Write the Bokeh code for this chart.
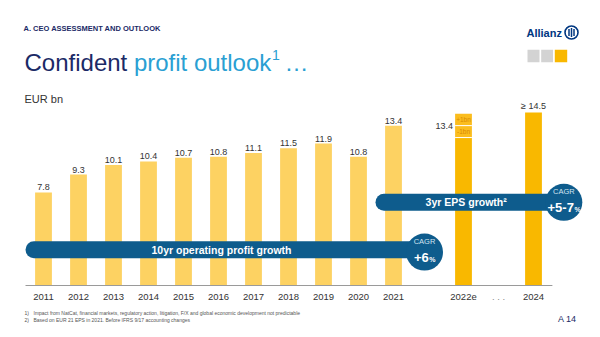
from bokeh.plotting import figure
from bokeh.models import Range1d, Label, ColumnDataSource
from bokeh.core.properties import value
from bokeh.embed import file_html
from bokeh.resources import INLINE

# ---------------- data ----------------
hist_years = ["2011", "2012", "2013", "2014", "2015", "2016",
              "2017", "2018", "2019", "2020", "2021"]
hist_values = [7.8, 9.3, 10.1, 10.4, 10.7, 10.8, 11.1, 11.5, 11.9, 10.8, 13.4]
outlook_years = ["2022e", "2024"]
outlook_values = [13.4, 14.5]
outlook_labels = ["13.4", "\u2265 14.5"]
outlook_band = 1.0            # +/- 1bn around the 2022e midpoint
band_labels = ["+1bn", "-1bn"]
axis_labels = hist_years + ["", "2022e", ". . .", "2024"]
cagr_10yr = "+6"
cagr_eps = "+5-7"

# ---------------- style ----------------
W, H = 600, 337
FONT = "Liberation Sans"
LIGHT = "#FDD262"
DARK = "#F9B800"
BAND = "#FBBD1E"
BLUE = "#0E5C8D"
NAVY = "#1B2A66"
SKY = "#2A9FD3"
GREY_TXT = "#333333"

SLOT_PX = 35.0       # pixels per category slot
PXU = 11.93          # pixels per EUR bn
BASE_PX = 285.0      # baseline position (from top)
FIRST_PX = 43.0      # centre of first slot
X0 = -FIRST_PX / SLOT_PX
X1 = X0 + W / SLOT_PX
Y0 = -(H - BASE_PX) / PXU
Y1 = BASE_PX / PXU
BAR_W = 0.48

xi = {lab: i for i, lab in enumerate(axis_labels)}

p = figure(width=W, height=H, x_range=Range1d(X0, X1), y_range=Range1d(Y0, Y1),
           output_backend="svg", toolbar_location=None,
           x_axis_type=None, y_axis_type=None, min_border=0,
           outline_line_color=None, background_fill_color="white",
           border_fill_color="white")

# ---------------- historical bars ----------------
hist_src = ColumnDataSource(dict(
    x=[xi[y] for y in hist_years], top=hist_values,
    label=[f"{v:.1f}" for v in hist_values]))
p.vbar(x="x", top="top", width=BAR_W, source=hist_src,
       fill_color=LIGHT, line_color=None)
p.text(x="x", y="top", text="label", source=hist_src, text_align="center",
       text_baseline="bottom", y_offset=-2, text_font_size="9px",
       text_font=value(FONT), text_color=GREY_TXT)

# ---------------- outlook bars ----------------
x22 = xi["2022e"]
x24 = xi["2024"]
mid22 = outlook_values[0]
p.vbar(x=[x22], top=[mid22 - outlook_band], width=BAR_W,
       fill_color=DARK, line_color=None)
p.vbar(x=[x22, x22], bottom=[mid22, mid22 - outlook_band],
       top=[mid22 + outlook_band, mid22], width=BAR_W,
       fill_color=BAND, line_color=None)
p.segment(x0=[x22 - BAR_W / 2] * 2, x1=[x22 + BAR_W / 2] * 2,
          y0=[mid22, mid22 - outlook_band], y1=[mid22, mid22 - outlook_band],
          line_color="white", line_width=1)
p.text(x=[x22, x22], y=[mid22 + outlook_band / 2, mid22 - outlook_band / 2],
       text=band_labels, text_align="center", text_baseline="middle",
       text_font_size="6.5px", text_font=value(FONT), text_color="#D98A00")
p.text(x=[x22 - BAR_W / 2], y=[mid22], text=[outlook_labels[0]],
       text_align="right", text_baseline="middle", x_offset=-2,
       text_font_size="9px", text_font=value(FONT), text_color=GREY_TXT)

p.vbar(x=[x24], top=[outlook_values[1]], width=BAR_W,
       fill_color=DARK, line_color=None)
p.text(x=[x24], y=[outlook_values[1]], text=[outlook_labels[1]],
       text_align="center", text_baseline="bottom", y_offset=-2,
       text_font_size="9px", text_font=value(FONT), text_color=GREY_TXT)

# ---------------- baseline + category labels ----------------
p.segment(x0=[X0 + 25 / SLOT_PX], x1=[xi["2024"] + 0.54], y0=[0], y1=[0],
          line_color="#9A9A9A", line_width=1)
lab_x = [i for i, lab in enumerate(axis_labels) if lab]
lab_t = [lab for lab in axis_labels if lab]
p.text(x=lab_x, y=[0] * len(lab_x), text=lab_t, text_align="center",
       text_baseline="middle", y_offset=11, text_font_size="9.5px",
       text_font=value(FONT),
       text_color=[("#888888" if t.startswith(".") else GREY_TXT) for t in lab_t])

# ---------------- CAGR arrows ----------------
BOLD_W = {"+": 584, "-": 333, "0": 556, "1": 556, "2": 556, "3": 556, "4": 556,
          "5": 556, "6": 556, "7": 556, "8": 556, "9": 556}


def badge(x_start, x_end, y_bar, y_circ, caption):
    half = 8.5 / SLOT_PX
    p.segment(x0=[x_start + half], x1=[x_end], y0=[y_bar], y1=[y_bar],
              line_color=BLUE, line_width=17, line_cap="round")
    p.scatter(x=[x_end], y=[y_circ], size=37, marker="circle",
              fill_color=BLUE, line_color=None)
    p.text(x=[x_end], y=[y_circ], text=["CAGR"], text_align="center",
           text_baseline="middle", y_offset=-10.5, text_font_size="7.5px",
           text_font=value(FONT), text_color="#D2E4F1")
    vw = sum(BOLD_W.get(c, 556) for c in caption) * 13 / 1000.0
    pw = 889 * 7 / 1000.0
    split = -(vw + pw) / 2 + vw
    p.text(x=[x_end], y=[y_circ], text=[caption], text_align="right",
           text_baseline="middle", x_offset=split, y_offset=5.5,
           text_font_size="13px", text_font=value(FONT),
           text_font_style="bold", text_color="white")
    p.text(x=[x_end], y=[y_circ], text=["%"], text_align="left",
           text_baseline="middle", x_offset=split + 0.5, y_offset=7.5,
           text_font_size="7px", text_font=value(FONT),
           text_font_style="bold", text_color="white")


badge(xi["2011"] - 0.514, xi["2021"] + 0.886, 2.99, 2.8, cagr_10yr)
badge(xi["2021"] - 0.514, xi["2024"] + 0.866, 6.97, 6.97, cagr_eps)

p.text(x=[(xi["2011"] - 0.514 + xi["2021"] + 0.886) / 2 - 0.1], y=[2.99],
       text=["10yr operating profit growth"], text_align="center",
       text_baseline="middle", text_font_size="10.5px", text_font=value(FONT),
       text_font_style="bold", text_color="white")
p.text(x=[(xi["2021"] - 0.514 + xi["2024"] + 0.866) / 2 - 0.1], y=[6.97],
       text=["3yr EPS growth\u00b2"], text_align="center",
       text_baseline="middle", text_font_size="10.5px", text_font=value(FONT),
       text_font_style="bold", text_color="white")


# ---------------- header / footer (screen units, y from bottom) ----------------
def lab(x, top, text, size, color, bold=False, align="left", base="middle"):
    p.add_layout(Label(x=x, y=H - top, x_units="screen", y_units="screen",
                       text=text, text_font_size=size, text_font=FONT,
                       text_color=color, text_align=align, text_baseline=base,
                       text_font_style="bold" if bold else "normal"))


lab(23, 27.5, "A. CEO ASSESSMENT AND OUTLOOK", "7.5px", NAVY, bold=True)
lab(24, 62, "Confident", "24px", NAVY, base="alphabetic")
lab(133.4, 62, "profit outlook", "24px", SKY, base="alphabetic")
lab(271.5, 54, "1", "14px", SKY, base="alphabetic")
lab(284, 62, "\u2026", "24px", SKY, base="alphabetic")
lab(24, 98, "EUR bn", "11px", GREY_TXT, base="alphabetic")

lab(526, 32, "Allianz", "11px", "#003781", bold=True)
lab(24, 312.5, "1)", "5px", "#555555")
lab(33, 312.5, "Impact from NatCat, financial markets, regulatory action, litigation, "
    "F/X and global economic development not predictable", "5px", "#555555")
lab(24, 319.5, "2)", "5px", "#555555")
lab(33, 319.5, "Based on EUR 21 EPS in 2021. Before IFRS 9/17 accounting changes",
    "5px", "#555555")
lab(576, 318, "A 14", "9px", NAVY, align="right")


def dx(px):
    return X0 + px / SLOT_PX


def dy(py):
    return (BASE_PX - py) / PXU


# Allianz eagle mark (simplified) and section squares
p.scatter(x=[dx(571)], y=[dy(32)], size=13, marker="circle",
          fill_color=None, line_color="#003781", line_width=1.6)
p.segment(x0=[dx(568.5), dx(571), dx(573.5)], x1=[dx(568.5), dx(571), dx(573.5)],
          y0=[dy(28.5), dy(27.5), dy(28.5)], y1=[dy(35.5), dy(36.5), dy(35.5)],
          line_color="#003781", line_width=1.5)
p.quad(left=[dx(527), dx(540.7), dx(554.3)], right=[dx(539), dx(552.5), dx(566.7)],
       bottom=[dy(61.7)] * 3, top=[dy(49.3)] * 3,
       fill_color=["#D3D3D3", "#D3D3D3", DARK], line_color=None)

open("out.html", "w").write(file_html(p, INLINE))
